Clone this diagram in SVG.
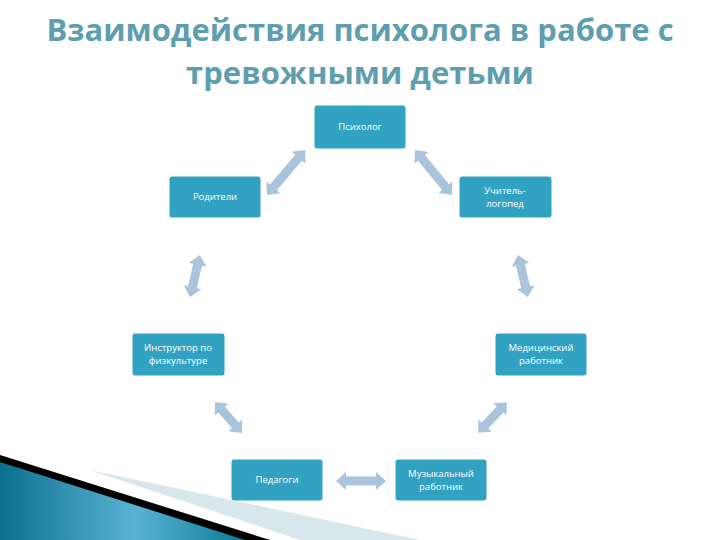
<svg xmlns="http://www.w3.org/2000/svg" width="720" height="540" viewBox="0 0 720 540">
<style>
.box{fill:#31a2c2;stroke:#ffffff;stroke-width:1}
.t{font-family:"Open Sans","DejaVu Sans",sans-serif;font-size:9.5px;fill:#ffffff;text-anchor:middle}
.arr{fill:#a9c4db}
.title{font-family:"Open Sans","DejaVu Sans",sans-serif;font-size:31px;font-weight:bold;fill:#5f9eae;text-anchor:middle}
</style>
<defs>
<linearGradient id="g" x1="0" y1="0" x2="1" y2="0">
<stop offset="0" stop-color="#0c6f8e"/><stop offset="0.55" stop-color="#5ab3d3"/><stop offset="1" stop-color="#0e7a98"/>
</linearGradient>
</defs>
<rect width="720" height="540" fill="#ffffff"/>
<polygon points="90,470 420,540 300,540" fill="#d8e6ee"/>
<polygon points="0,455 270,540 0,540" fill="#000000"/>
<polygon points="0,462 245,540 0,540" fill="url(#g)"/>
<text class="title" x="360" y="41">Взаимодействия психолога в работе с</text>
<text class="title" x="360" y="84">тревожными детьми</text>
<g id="connectors">
<polygon class="arr" transform="translate(286,172.5) rotate(-49.8)" points="-29.5,0 -19.5,-9 -19.5,-4.5 19.5,-4.5 19.5,-9 29.5,0 19.5,9 19.5,4.5 -19.5,4.5 -19.5,9"/>
<polygon class="arr" transform="translate(433.5,172.5) rotate(50.6)" points="-29,0 -19,-9 -19,-4.5 19,-4.5 19,-9 29,0 19,9 19,4.5 -19,4.5 -19,9"/>
<polygon class="arr" transform="translate(195,276) rotate(103)" points="-21.5,0 -11.5,-9 -11.5,-4.5 11.5,-4.5 11.5,-9 21.5,0 11.5,9 11.5,4.5 -11.5,4.5 -11.5,9"/>
<polygon class="arr" transform="translate(523,276) rotate(77)" points="-21.5,0 -11.5,-9 -11.5,-4.5 11.5,-4.5 11.5,-9 21.5,0 11.5,9 11.5,4.5 -11.5,4.5 -11.5,9"/>
<polygon class="arr" transform="translate(228.5,417.5) rotate(48.9)" points="-20.5,0 -10.5,-9 -10.5,-4.5 10.5,-4.5 10.5,-9 20.5,0 10.5,9 10.5,4.5 -10.5,4.5 -10.5,9"/>
<polygon class="arr" transform="translate(492.5,417.5) rotate(133)" points="-21,0 -11,-9 -11,-4.5 11,-4.5 11,-9 21,0 11,9 11,4.5 -11,4.5 -11,9"/>
<polygon class="arr" transform="translate(361,481)" points="-25,0 -15,-9 -15,-4.5 15,-4.5 15,-9 25,0 15,9 15,4.5 -15,4.5 -15,9"/>
</g>
<g id="n1"><rect class="box" x="314" y="105" width="92" height="44" rx="3"/><text class="t" x="360" y="130">Психолог</text></g>
<g id="n2"><rect class="box" x="169" y="176" width="92" height="42" rx="3"/><text class="t" x="215" y="200">Родители</text></g>
<g id="n3"><rect class="box" x="459" y="176" width="93" height="42" rx="3"/><text class="t" x="505" y="194">Учитель-</text><text class="t" x="505" y="207">логопед</text></g>
<g id="n4"><rect class="box" x="132" y="333" width="93" height="43" rx="3"/><text class="t" x="178" y="351">Инструктор по</text><text class="t" x="178" y="364">физкультуре</text></g>
<g id="n5"><rect class="box" x="495" y="333" width="92" height="43" rx="3"/><text class="t" x="541" y="351">Медицинский</text><text class="t" x="541" y="364">работник</text></g>
<g id="n6"><rect class="box" x="231" y="459" width="92" height="42" rx="3"/><text class="t" x="277" y="483">Педагоги</text></g>
<g id="n7"><rect class="box" x="395" y="459" width="92" height="42" rx="3"/><text class="t" x="441" y="477">Музыкальный</text><text class="t" x="441" y="490">работник</text></g>
</svg>
